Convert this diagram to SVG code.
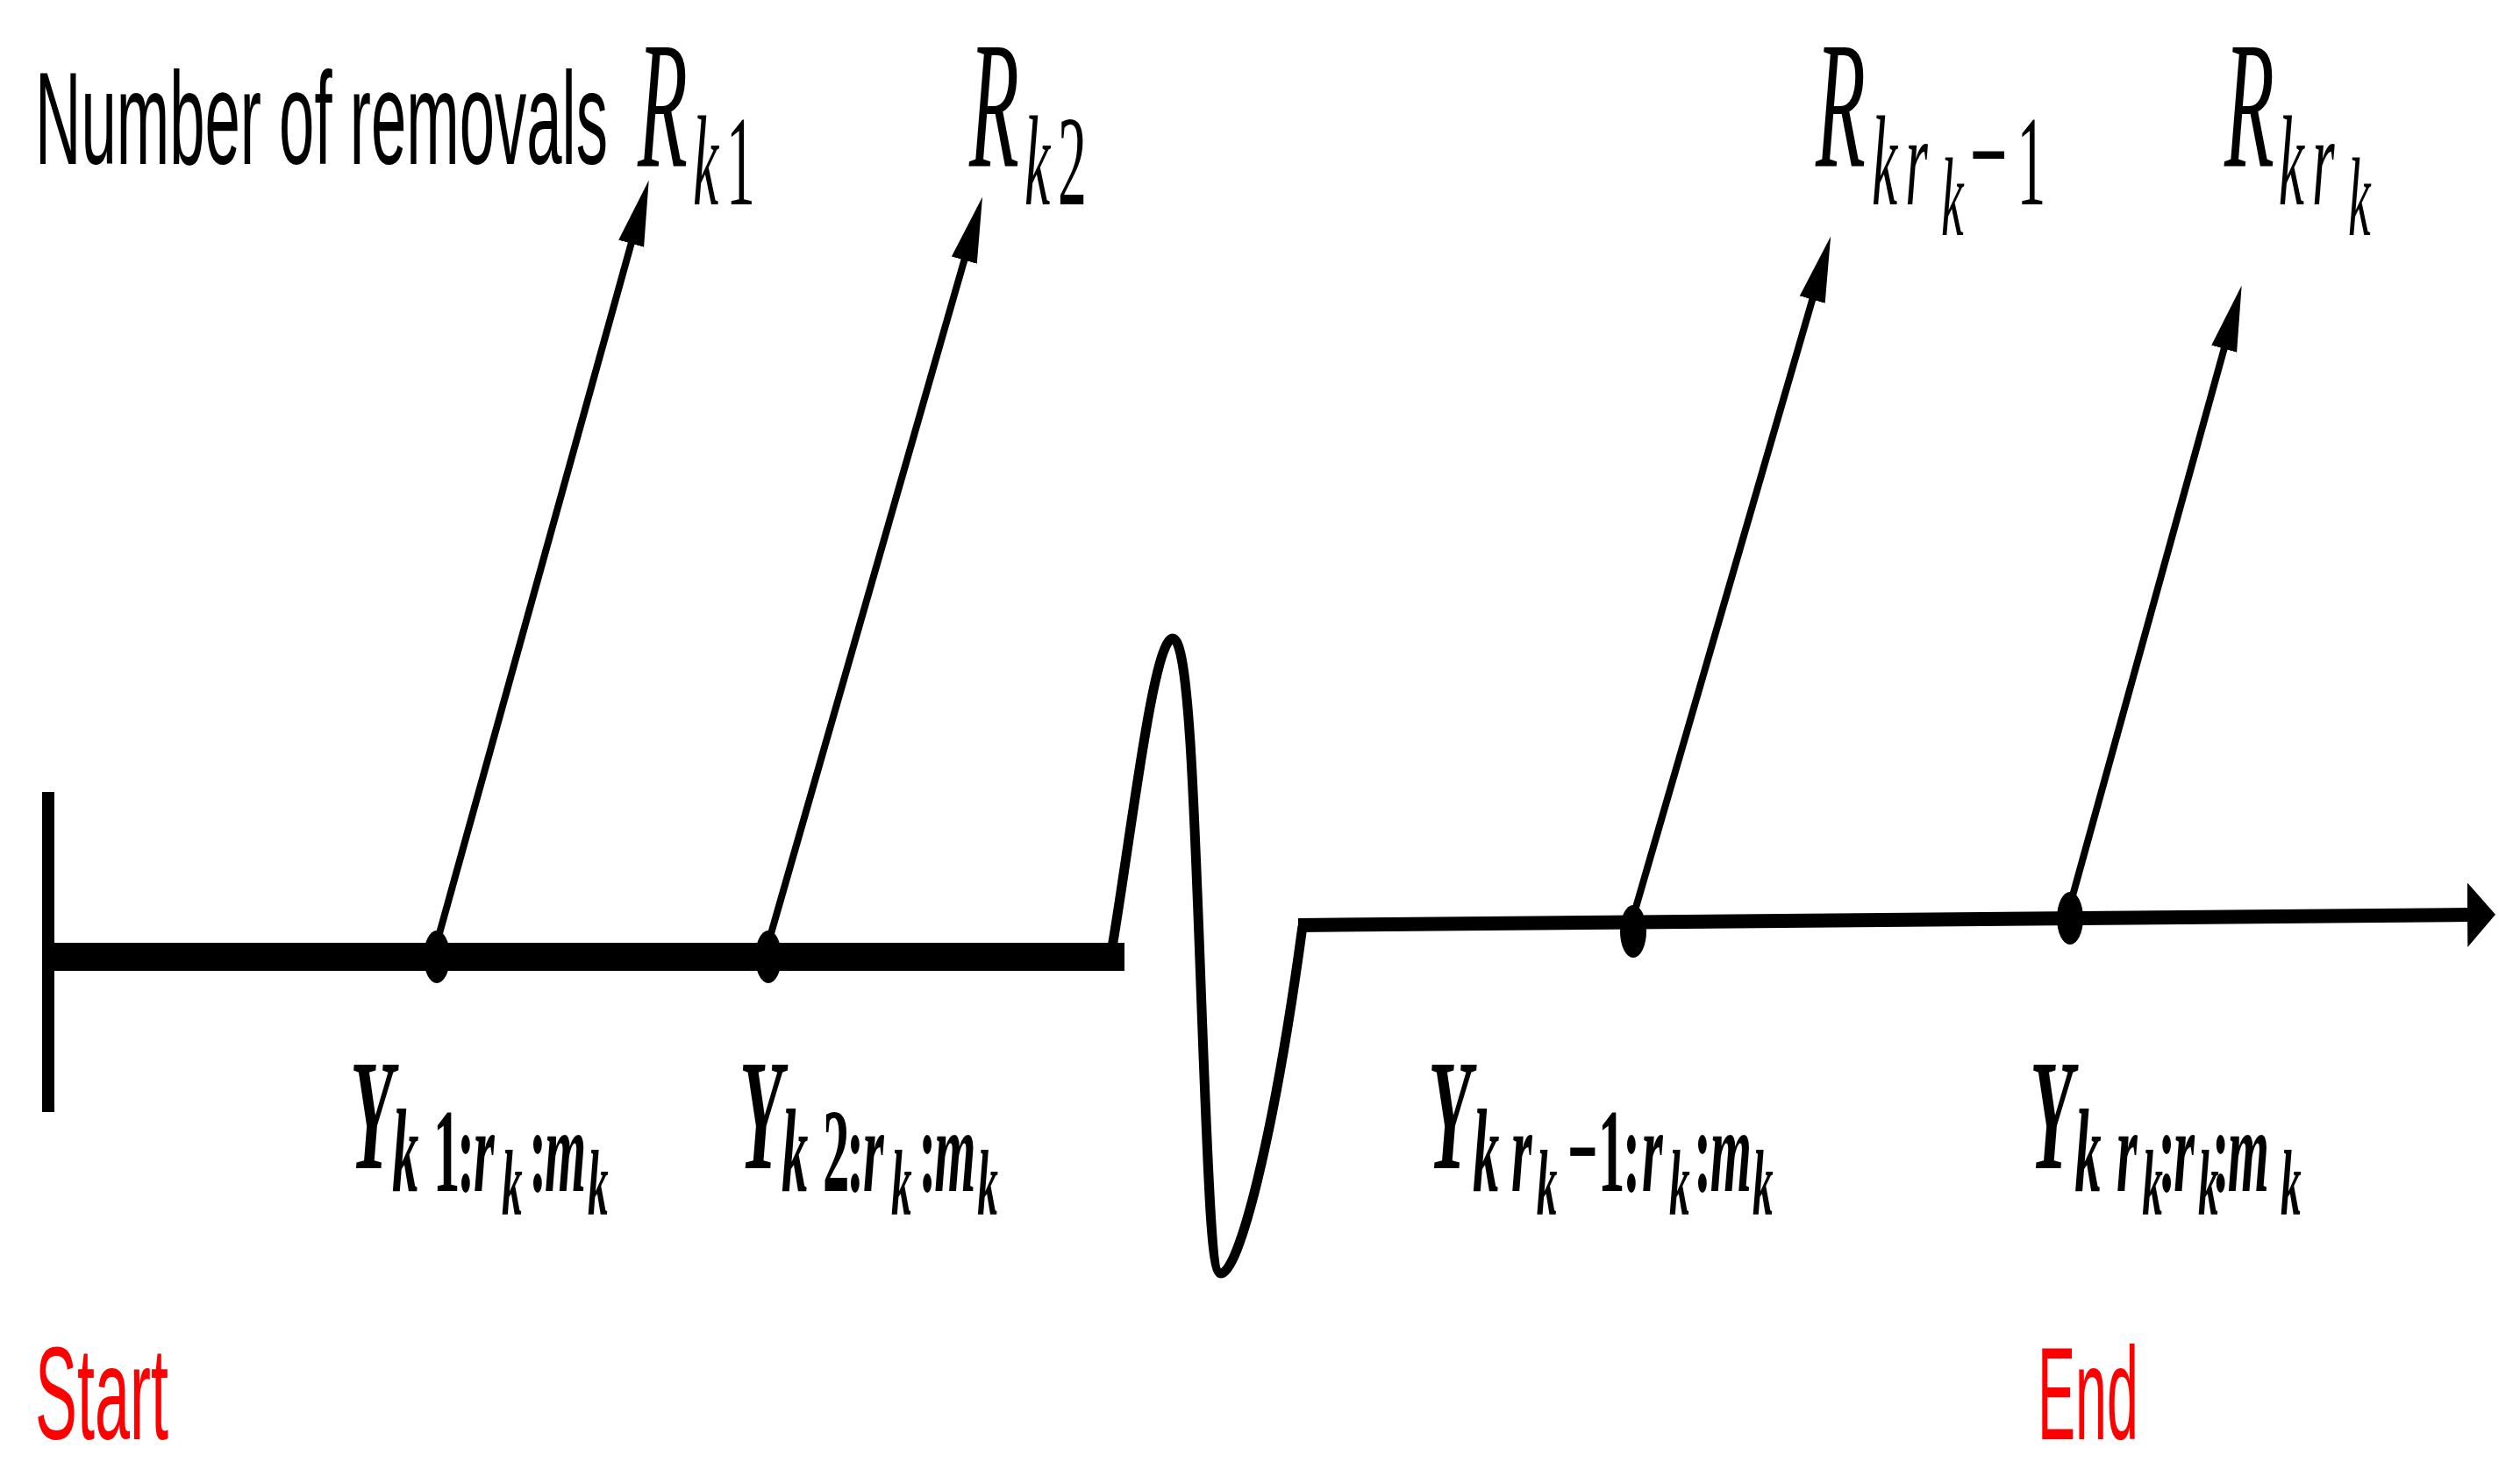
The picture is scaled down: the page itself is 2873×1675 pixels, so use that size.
<svg xmlns="http://www.w3.org/2000/svg" width="2873" height="1675" viewBox="0 0 2873 1675">
  <style>
    .lbl { font-family: "Liberation Sans", Arial, sans-serif; }
    .red { fill: #ff0000; }
    .mR { font-family: "Liberation Serif", "Times New Roman", serif; font-style: italic; fill: #000; }
    .mY { font-family: "Liberation Serif", "Times New Roman", serif; font-style: italic; font-weight: bold; fill: #000; }
    .up { font-style: normal; }
    .big { font-size: 207px; }
    .sub { font-size: 146px; }
    .ssub { font-size: 128px; }
    .ybig { font-size: 180px; }
    .ysub { font-size: 135px; }
    .yssub { font-size: 105px; }
    .arrow { stroke: #000; stroke-width: 8; fill: none; marker-end: url(#head); }
    .dot { fill: #000; }
  </style>
  <defs>
    <marker id="head" markerUnits="userSpaceOnUse" markerWidth="80" markerHeight="34" refX="35" refY="15" orient="auto" viewBox="0 0 80 34">
      <path d="M0,0 L75,15 L0,30 Z" fill="#000"/>
    </marker>
    <marker id="axisHead" markerUnits="userSpaceOnUse" markerWidth="40" markerHeight="80" refX="4" refY="37" orient="auto" viewBox="0 0 40 80">
      <path d="M0,0 L32,37 L0,74 Z" fill="#000"/>
    </marker>
  </defs>
  <rect width="2873" height="1675" fill="#fff"/>

  <g id="connectors">
    <line id="axis-start-bar" x1="55" y1="903" x2="55" y2="1268" stroke="#000" stroke-width="14"/>
    <line id="axis-left" x1="55" y1="1091" x2="1282" y2="1091" stroke="#000" stroke-width="32"/>
    <path id="axis-break" d="M1268,1080 C1290,950 1315,728 1337,728 C1355,728 1361,900 1370,1150 C1378,1360 1381,1452 1392,1452 C1412,1452 1452,1300 1485,1056" stroke="#000" stroke-width="11" fill="none" stroke-linejoin="round"/>
    <line id="axis-right" x1="1480" y1="1055" x2="2817" y2="1043" stroke="#000" stroke-width="16" marker-end="url(#axisHead)"/>
    <line id="arrow-1" class="arrow" x1="498" y1="1075" x2="729" y2="244"/>
    <line id="arrow-2" class="arrow" x1="876" y1="1075" x2="1109" y2="263"/>
    <line id="arrow-3" class="arrow" x1="1862" y1="1045" x2="2076" y2="308"/>
    <line id="arrow-4" class="arrow" x1="2360" y1="1032" x2="2545" y2="364"/>
  </g>

  <g id="title">
    <text class="lbl" x="40" y="187" font-size="150" textLength="653" lengthAdjust="spacingAndGlyphs" fill="#000">Number of removals</text>
  </g>

  <g id="node-start">
    <text class="lbl red" x="40" y="1641" font-size="150" textLength="152" lengthAdjust="spacingAndGlyphs">Start</text>
  </g>
  <g id="node-end">
    <text class="lbl red" x="2323" y="1641" font-size="150" textLength="115" lengthAdjust="spacingAndGlyphs">End</text>
  </g>

  <g id="node-R1">
    <text class="mR" transform="scale(0.45,1)"><tspan class="big" x="1615.6" y="190">R</tspan><tspan class="sub" x="1755.6" y="233">k</tspan><tspan class="sub up" x="1840" y="233">1</tspan></text>
  </g>
  <g id="node-R2">
    <text class="mR" transform="scale(0.45,1)"><tspan class="big" x="2455.6" y="190">R</tspan><tspan class="sub" x="2595.6" y="233">k</tspan><tspan class="sub up" x="2680" y="233">2</tspan></text>
  </g>
  <g id="node-R3">
    <text class="mR" transform="scale(0.45,1)"><tspan class="big" x="4600" y="190">R</tspan><tspan class="sub" x="4742" y="233">k</tspan><tspan class="sub" x="4827" y="233">r</tspan><tspan class="ssub" x="4918" y="268">k</tspan><tspan class="up" font-size="170" x="4990" y="233">−</tspan><tspan class="sub up" x="5110" y="233">1</tspan></text>
  </g>
  <g id="node-R4">
    <text class="mR" transform="scale(0.45,1)"><tspan class="big" x="5635.6" y="190">R</tspan><tspan class="sub" x="5773" y="233">k</tspan><tspan class="sub" x="5858" y="233">r</tspan><tspan class="ssub" x="5949" y="268">k</tspan></text>
  </g>

  <g id="node-Y1">
    <ellipse class="dot" cx="498" cy="1091" rx="15" ry="30"/>
    <text class="mY" transform="scale(0.45,1)"><tspan class="ybig" x="886.7" y="1332">Y</tspan><tspan class="ysub" x="993.3" y="1358">k</tspan><tspan class="ysub up" x="1097.8" y="1358">1</tspan><tspan class="ysub up" x="1157.8" y="1358">:</tspan><tspan class="ysub" x="1200" y="1358">r</tspan><tspan class="yssub" x="1271" y="1385">k</tspan><tspan class="ysub up" x="1340" y="1358">:</tspan><tspan class="ysub" x="1380" y="1358">m</tspan><tspan class="yssub" x="1489" y="1385">k</tspan></text>
  </g>
  <g id="node-Y2">
    <ellipse class="dot" cx="876" cy="1091" rx="15" ry="30"/>
    <text class="mY" transform="scale(0.45,1)"><tspan class="ybig" x="1873" y="1332">Y</tspan><tspan class="ysub" x="1980" y="1358">k</tspan><tspan class="ysub up" x="2084.4" y="1358">2</tspan><tspan class="ysub up" x="2144.4" y="1358">:</tspan><tspan class="ysub" x="2186.7" y="1358">r</tspan><tspan class="yssub" x="2258" y="1385">k</tspan><tspan class="ysub up" x="2327" y="1358">:</tspan><tspan class="ysub" x="2367" y="1358">m</tspan><tspan class="yssub" x="2476" y="1385">k</tspan></text>
  </g>
  <g id="node-Y3">
    <ellipse class="dot" cx="1862" cy="1062" rx="15" ry="30"/>
    <text class="mY" transform="scale(0.45,1)"><tspan class="ybig" x="3618" y="1332">Y</tspan><tspan class="ysub" x="3731" y="1358">k</tspan><tspan class="ysub" x="3829" y="1358">r</tspan><tspan class="yssub" x="3893" y="1385">k</tspan><tspan class="ysub up" x="3971" y="1358">−</tspan><tspan class="ysub up" x="4049" y="1358">1</tspan><tspan class="ysub up" x="4111" y="1358">:</tspan><tspan class="ysub" x="4160" y="1358">r</tspan><tspan class="yssub" x="4229" y="1385">k</tspan><tspan class="ysub up" x="4291" y="1358">:</tspan><tspan class="ysub" x="4333" y="1358">m</tspan><tspan class="yssub" x="4440" y="1385">k</tspan></text>
  </g>
  <g id="node-Y4">
    <ellipse class="dot" cx="2360" cy="1047" rx="15" ry="30"/>
    <text class="mY" transform="scale(0.45,1)"><tspan class="ybig" x="5142" y="1332">Y</tspan><tspan class="ysub" x="5256" y="1358">k</tspan><tspan class="ysub" x="5362" y="1358">r</tspan><tspan class="yssub" x="5427" y="1385">k</tspan><tspan class="ysub up" x="5467" y="1358">:</tspan><tspan class="ysub" x="5507" y="1358">r</tspan><tspan class="yssub" x="5569" y="1385">k</tspan><tspan class="ysub up" x="5604" y="1358">:</tspan><tspan class="ysub" x="5644" y="1358">m</tspan><tspan class="yssub" x="5778" y="1385">k</tspan></text>
  </g>
</svg>
